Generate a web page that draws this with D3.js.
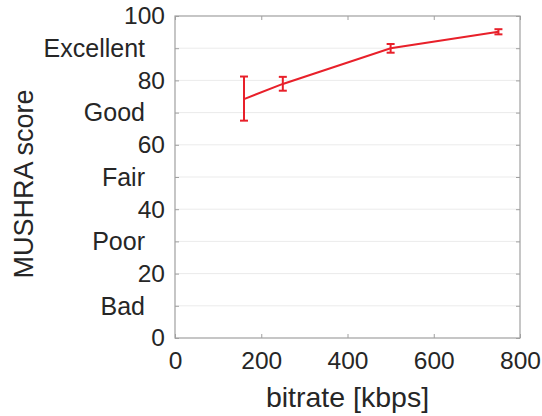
<!DOCTYPE html>
<html>
<head>
<meta charset="utf-8">
<script src="https://cdn.jsdelivr.net/npm/d3@7"></script>
<style>
body{margin:0;background:#fff;}
text{font-family:"Liberation Sans",Arial,sans-serif;fill:#262626;}
</style>
</head>
<body>
<div id="chart"></div>
<script>
//data
var bitrate=[160,250,500,750];
var score=[74.2,78.9,90,95.1];
var errLow=[67.5,76.8,88.6,94.3];
var errHigh=[81.2,81.1,91.3,95.9];
var xTicks=[0,200,400,600,800];
var yTicks=[0,20,40,60,80,100];
var gradeLabels=["Bad","Poor","Fair","Good","Excellent"];
var gradeValues=[10,30,50,70,90];

//set size
var svgWidth=542;
var svgHeight=416;
var margin={top:16,right:22,bottom:78,left:175};
var width=svgWidth-margin.left-margin.right;
var height=svgHeight-margin.top-margin.bottom;

var svg=d3.select("#chart")
    .append("svg")
    .attr("width",svgWidth)
    .attr("height",svgHeight);

var chartGroup=svg.append("g")
    .attr("transform",`translate(${margin.left},${margin.top})`);

var x=d3.scaleLinear().domain([0,800]).range([0,width]);
var y=d3.scaleLinear().domain([0,100]).range([height,0]);

//grid lines every 10
chartGroup.selectAll(".grid")
    .data(d3.range(10,100,10))
    .enter()
    .append("line")
    .attr("x1",0)
    .attr("x2",width)
    .attr("y1",d=>y(d))
    .attr("y2",d=>y(d))
    .attr("stroke","#ebebeb")
    .attr("stroke-width",1);

//box
chartGroup.append("rect")
    .attr("x",0).attr("y",0)
    .attr("width",width).attr("height",height)
    .attr("fill","none")
    .attr("stroke","#a0a0a0")
    .attr("stroke-width",1.2);

//axes
var bottomAxis=d3.axisBottom(x).tickValues(xTicks).tickSizeInner(-4).tickSizeOuter(0).tickPadding(14);
var topAxis=d3.axisTop(x).tickValues(xTicks).tickSizeInner(-4).tickSizeOuter(0).tickFormat("");
var leftAxis=d3.axisLeft(y).tickValues(d3.range(0,101,10)).tickSizeInner(-4).tickSizeOuter(0).tickPadding(10)
    .tickFormat(d=>yTicks.indexOf(d)>=0?d:"");
var rightAxis=d3.axisRight(y).tickValues(d3.range(0,101,10)).tickSizeInner(-4).tickSizeOuter(0).tickFormat("");

function styleAxis(g){
    g.select(".domain").remove();
    g.selectAll("line").attr("stroke","#a0a0a0");
    g.selectAll("text").style("font-size","24.5px").attr("fill","#262626");
}

chartGroup.append("g").attr("transform",`translate(0,${height})`).call(bottomAxis).call(styleAxis);
chartGroup.append("g").call(topAxis).call(styleAxis);
chartGroup.append("g").call(leftAxis).call(styleAxis);
chartGroup.append("g").attr("transform",`translate(${width},0)`).call(rightAxis).call(styleAxis);

//grade labels
chartGroup.selectAll(".grade")
    .data(gradeLabels)
    .enter()
    .append("text")
    .attr("x",-30)
    .attr("y",(d,i)=>y(gradeValues[i]))
    .attr("dy","0.35em")
    .attr("text-anchor","end")
    .style("font-size","25px")
    .text(d=>d);

//line
var line=d3.line()
    .x((d,i)=>x(bitrate[i]))
    .y(d=>y(d));

chartGroup.append("path")
    .datum(score)
    .attr("d",line)
    .attr("fill","none")
    .attr("stroke","#e8202a")
    .attr("stroke-width",2);

//error bars
var errGroup=chartGroup.append("g")
    .attr("stroke","#e8202a")
    .attr("stroke-width",2);

errGroup.selectAll(".ev")
    .data(bitrate)
    .enter()
    .append("line")
    .attr("x1",d=>x(d)).attr("x2",d=>x(d))
    .attr("y1",(d,i)=>y(errLow[i]))
    .attr("y2",(d,i)=>y(errHigh[i]));

[errLow,errHigh].forEach(function(arr){
    errGroup.selectAll(null)
        .data(bitrate)
        .enter()
        .append("line")
        .attr("x1",d=>x(d)-4).attr("x2",d=>x(d)+4)
        .attr("y1",(d,i)=>y(arr[i]))
        .attr("y2",(d,i)=>y(arr[i]));
});

//axis labels
svg.append("text")
    .attr("x",margin.left+width/2)
    .attr("y",407)
    .attr("text-anchor","middle")
    .style("font-size","28.5px")
    .text("bitrate [kbps]");

svg.append("text")
    .attr("transform",`translate(33,184) rotate(-90)`)
    .attr("text-anchor","middle")
    .style("font-size","27px")
    .text("MUSHRA score");
</script>
</body>
</html>
